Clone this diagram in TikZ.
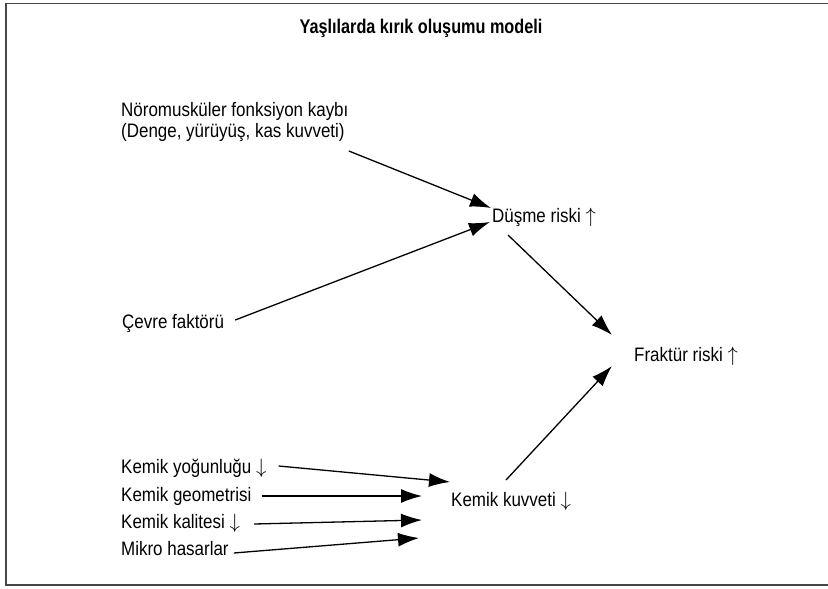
\documentclass[tikz,border=0pt]{standalone}
\usepackage{fontspec}
\setmainfont{Liberation Sans}[FakeStretch=0.87]
\newfontfamily\ttlfont{Liberation Sans}[FakeStretch=0.82]
\usetikzlibrary{arrows.meta,calc}
\begin{document}
\begin{tikzpicture}[x=1pt,y=-1pt,
  lbl/.style={inner sep=0pt,font=\fontsize{19.5}{23}\selectfont,text=black},
  ttl/.style={inner sep=0pt,font=\ttlfont\bfseries\fontsize{19.8}{23}\selectfont},
  arr/.style={line width=1.3pt,-{Latex[length=21pt,width=14pt]}},
  frame/.style={line width=1.6pt,draw=black!72}]
\useasboundingbox (0,0) rectangle (828,589);
\draw[frame] (828,3.5) -- (6,3.5) -- (6,585) -- (828,585);
\node[ttl,anchor=base] (title) at (421,33) {Yaşlılarda kırık oluşumu modeli};
\node[lbl,anchor=base west] (nor1) at (121,116) {Nöromusküler fonksiyon kaybı};
\node[lbl,anchor=base west] (nor2) at (121,137) {(Denge, yürüyüş, kas kuvveti)};
\node[lbl,anchor=base west] (cev) at (122,328) {Çevre faktörü};
\node[lbl,anchor=base west] (dus) at (492,222) {Düşme riski $\uparrow$};
\node[lbl,anchor=base west] (fra) at (634,361) {Fraktür riski $\uparrow$};
\node[lbl,anchor=base west] (kk) at (451,506) {Kemik kuvveti $\downarrow$};
\node[lbl,anchor=base west] (ky) at (121,473) {Kemik yoğunluğu $\downarrow$};
\node[lbl,anchor=base west] (kg) at (121,501) {Kemik geometrisi};
\node[lbl,anchor=base west] (kl) at (121,528) {Kemik kalitesi $\downarrow$};
\node[lbl,anchor=base west] (mh) at (121,555) {Mikro hasarlar};
\draw[arr] ($(nor2.base east)+(4,14)$) -- ($(dus.base west)+(-1,-14)$);
\draw[arr] ($(cev.base east)+(11,-8)$) -- ($(dus.base west)+(-2,0)$);
\draw[arr] ($(dus.base west)+(16,13)$) -- ($(fra.base west)+(-22,-26)$);
\draw[arr] ($(kk.base west)+(55,-26)$) -- ($(fra.base west)+(-22,5)$);
\draw[arr] ($(ky.base east)+(12,-7)$) -- ($(kk.base west)+(-1,-24)$);
\draw[arr] ($(kg.base east)+(10,-5)$) -- ($(kk.base west)+(-29,-10)$);
\draw[arr] ($(kl.base east)+(14,-4)$) -- ($(kk.base west)+(-29,14)$);
\draw[arr] ($(mh.base east)+(5,-2)$) -- ($(kk.base west)+(-32,32)$);
\end{tikzpicture}
\end{document}
